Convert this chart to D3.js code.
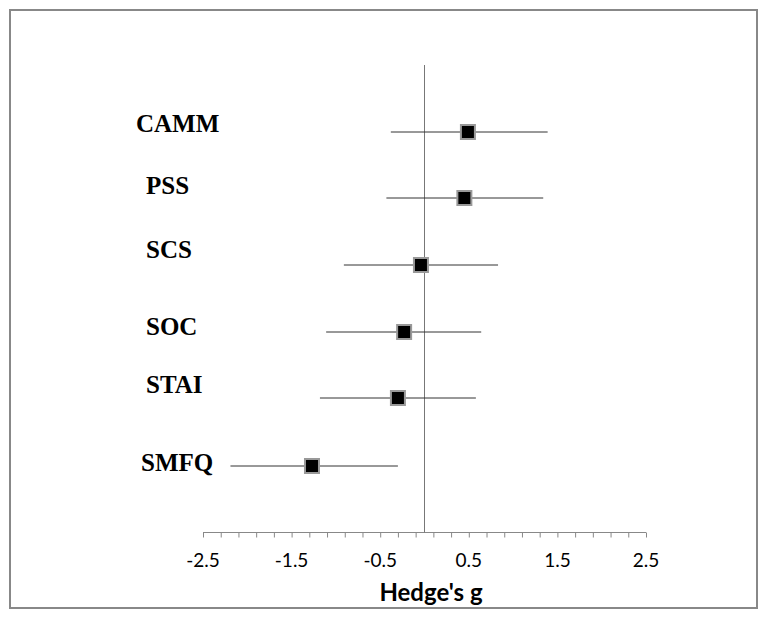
<!DOCTYPE html>
<html>
<head>
<meta charset="utf-8">
<script src="https://cdn.jsdelivr.net/npm/d3@7"></script>
<style>
	body { margin: 0; background: #fff; }
	svg { display: block; }
</style>
</head>
<body>
<div id="chart"></div>
<script>
// chart data
var scales = ["CAMM", "PSS", "SCS", "SOC", "STAI", "SMFQ"];
var effect = [0.49, 0.45, -0.04, -0.23, -0.30, -1.27];
var ciLow = [-0.38, -0.43, -0.91, -1.11, -1.18, -2.19];
var ciHigh = [1.39, 1.34, 0.83, 0.64, 0.58, -0.30];
var rowY = [132, 198, 265, 332, 398, 466];
var labelY = [124, 186, 250, 327, 385, 463];
var labelX = [136, 146, 146, 146, 146, 141];
var tickLabels = [-2.5, -1.5, -0.5, 0.5, 1.5, 2.5];

var width = 769, height = 620;

var svg = d3.select("#chart")
	.append("svg")
	.attr("width", width)
	.attr("height", height);

// frame
svg.append("rect")
	.attr("x", 10)
	.attr("y", 10)
	.attr("width", 747)
	.attr("height", 598)
	.attr("fill", "none")
	.attr("stroke", "#888")
	.attr("stroke-width", 2);

var x = d3.scaleLinear()
	.domain([-2.5, 2.5])
	.range([203, 646]);

var axisY = 532.5;

// axis with minor ticks every 0.2
var xAxis = d3.axisBottom(x)
	.tickValues(d3.range(0, 26).map(function(i) { return +(-2.5 + i * 0.2).toFixed(1); }))
	.tickSize(5)
	.tickSizeOuter(0)
	.tickFormat("");

var ax = svg.append("g")
	.attr("transform", "translate(0," + axisY + ")")
	.call(xAxis);
ax.selectAll("path, line").attr("stroke", "#888");
ax.select(".domain").attr("d", "M" + x(-2.5) + ",0H" + x(2.5));

svg.selectAll(".tlabel")
	.data(tickLabels)
	.enter().append("text")
	.attr("class", "tlabel")
	.attr("x", function(d) { return x(d); })
	.attr("y", 567)
	.attr("text-anchor", "middle")
	.attr("font-family", "Lato, sans-serif")
	.attr("font-size", 19)
	.attr("fill", "#000")
	.text(function(d) { return d; });

svg.append("text")
	.attr("x", 431)
	.attr("y", 601)
	.attr("text-anchor", "middle")
	.attr("font-family", "Lato, sans-serif")
	.attr("font-weight", "bold")
	.attr("font-size", 24)
	.text("Hedge's g");

// zero line
svg.append("line")
	.attr("x1", x(0))
	.attr("x2", x(0))
	.attr("y1", 65)
	.attr("y2", axisY)
	.attr("stroke", "#777")
	.attr("stroke-width", 1);

// rows
var rows = svg.selectAll(".row")
	.data(scales)
	.enter().append("g")
	.attr("class", "row");

rows.append("line")
	.attr("x1", function(d, i) { return x(ciLow[i]); })
	.attr("x2", function(d, i) { return x(ciHigh[i]); })
	.attr("y1", function(d, i) { return rowY[i]; })
	.attr("y2", function(d, i) { return rowY[i]; })
	.attr("stroke", "#333")
	.attr("stroke-width", 1);

rows.append("rect")
	.attr("x", function(d, i) { return x(effect[i]) - 7; })
	.attr("y", function(d, i) { return rowY[i] - 7; })
	.attr("width", 14)
	.attr("height", 14)
	.attr("fill", "#000")
	.attr("stroke", "#999")
	.attr("stroke-width", 2);

rows.append("text")
	.attr("x", function(d, i) { return labelX[i]; })
	.attr("y", function(d, i) { return labelY[i] + 8; })
	.attr("font-family", "Liberation Serif, Times New Roman, serif")
	.attr("font-weight", "bold")
	.attr("font-size", 25)
	.text(function(d) { return d; });
</script>
</body>
</html>
